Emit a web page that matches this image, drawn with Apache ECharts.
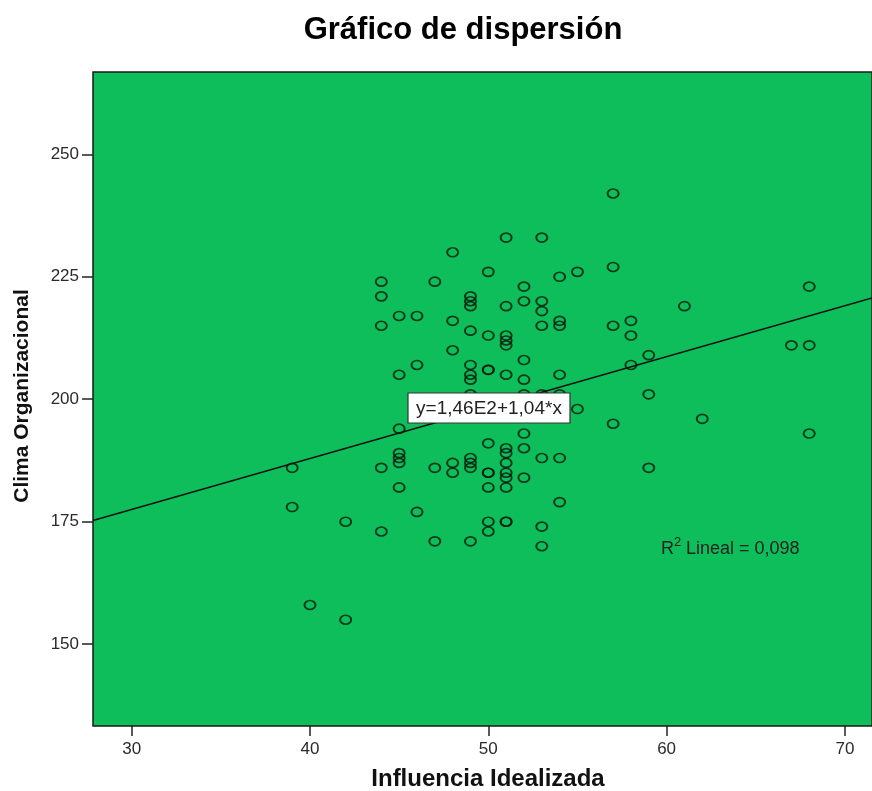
<!DOCTYPE html>
<html>
<head>
<meta charset="utf-8">
<script src="https://cdn.jsdelivr.net/npm/echarts@6/dist/echarts.min.js"></script>
<style>
  html, body { margin: 0; padding: 0; background: #ffffff; }
  #chart { width: 872px; height: 791px; }
</style>
</head>
<body>
<div id="chart"></div>
<script>
// Influencia Idealizada (x) and Clima Organizacional (y)
const influencia = [
  39, 39,
  40,
  42, 42,
  44, 44, 44, 44, 44,
  45, 45, 45, 45, 45, 45, 45,
  46, 46, 46,
  47, 47, 47,
  48, 48, 48, 48, 48,
  49, 49, 49, 49, 49, 49, 49, 49, 49, 49, 49, 49,
  50, 50, 50, 50, 50, 50, 50, 50, 50, 50,
  51, 51, 51, 51, 51, 51, 51, 51, 51, 51, 51, 51, 51, 51,
  52, 52, 52, 52, 52, 52, 52, 52,
  53, 53, 53, 53, 53, 53, 53, 53,
  54, 54, 54, 54, 54, 54, 54,
  55, 55,
  57, 57, 57, 57,
  58, 58, 58,
  59, 59, 59,
  61,
  62,
  67,
  68, 68, 68
];
const clima = [
  186, 178,
  158,
  175, 155,
  224, 221, 215, 186, 173,
  217, 205, 194, 189, 188, 187, 182,
  217, 207, 177,
  224, 186, 171,
  230, 216, 210, 187, 185,
  221, 220, 219, 214, 207, 205, 204, 201, 188, 187, 186, 171,
  226, 213, 206, 206, 191, 185, 185, 182, 175, 173,
  233, 219, 213, 212, 211, 205, 190, 189, 187, 185, 184, 182, 175, 175,
  223, 220, 208, 204, 201, 193, 190, 184,
  233, 220, 218, 215, 201, 188, 174, 170,
  225, 216, 215, 205, 201, 188, 179,
  226, 198,
  242, 227, 215, 195,
  216, 213, 207,
  209, 201, 186,
  219,
  196,
  211,
  223, 211, 193
];
const xTicks = [30, 40, 50, 60, 70];
const yTicks = [150, 175, 200, 225, 250];
const xRange = [27.83, 71.52];
const yRange = [133.3, 266.8];
const intercept = 146.3;   // 1,46E2
const slope = 1.04;
const titleText = 'Gráfico de dispersión';
const xName = 'Influencia Idealizada';
const yName = 'Clima Organizacional';
const eqText = 'y=1,46E2+1,04*x';
const r2Base = 'R';
const r2Sup = '2';
const r2Rest = ' Lineal = 0,098';

const points = influencia.map((x, i) => [x, clima[i]]);
const fitLine = xRange.map(x => [x, intercept + slope * x]);

const FONT = '"Liberation Sans", Arial, sans-serif';
const chart = echarts.init(document.getElementById('chart'), null, { renderer: 'canvas' });

chart.setOption({
  animation: false,
  backgroundColor: '#ffffff',
  grid: {
    left: 93, top: 72, right: -3, bottom: 65,
    show: true,
    backgroundColor: '#0dbe5a',
    borderColor: '#1a1a1a',
    borderWidth: 1.5
  },
  xAxis: {
    type: 'value',
    min: xRange[0], max: xRange[1],
    axisLine: { show: false },
    splitLine: { show: false },
    axisTick: { show: true, customValues: xTicks, length: 10, lineStyle: { color: '#222', width: 1.5 } },
    axisLabel: { customValues: xTicks, margin: 15, color: '#2a2a2a', fontSize: 17, fontFamily: FONT }
  },
  yAxis: {
    type: 'value',
    min: yRange[0], max: yRange[1],
    axisLine: { show: false },
    splitLine: { show: false },
    axisTick: { show: true, customValues: yTicks, length: 11, lineStyle: { color: '#222', width: 1.5 } },
    axisLabel: { customValues: yTicks, margin: 14, color: '#2a2a2a', fontSize: 17, fontFamily: FONT }
  },
  series: [
    {
      type: 'line',
      data: fitLine,
      symbol: 'none',
      lineStyle: { color: '#111', width: 1.5 },
      z: 2,
      silent: true
    },
    {
      type: 'scatter',
      data: points,
      symbol: 'path://M0,5a5,5 0 1,0 10,0a5,5 0 1,0 -10,0z',
      symbolSize: [11, 9],
      symbolKeepAspect: false,
      itemStyle: { color: 'rgba(0,0,0,0)', borderColor: '#0c160c', borderWidth: 1.8 },
      z: 3
    }
  ],
  graphic: [
    {
      type: 'text', x: 463, y: 30, z: 10,
      style: { text: titleText, font: 'bold 31px ' + FONT, fill: '#000', align: 'center', verticalAlign: 'middle' }
    },
    {
      type: 'text', x: 488, y: 779, z: 10,
      style: { text: xName, font: 'bold 24px ' + FONT, fill: '#111', align: 'center', verticalAlign: 'middle' }
    },
    {
      type: 'text', x: 22, y: 396, rotation: Math.PI / 2, z: 10,
      style: { text: yName, font: 'bold 21px ' + FONT, fill: '#111', align: 'center', verticalAlign: 'middle' }
    },
    {
      type: 'rect', z: 10,
      shape: { x: 408, y: 393, width: 162, height: 30 },
      style: { fill: '#ffffff', stroke: '#333', lineWidth: 1.2 }
    },
    {
      type: 'text', x: 489, y: 409, z: 11,
      style: { text: eqText, font: '19px ' + FONT, fill: '#222', align: 'center', verticalAlign: 'middle' }
    },
    {
      type: 'text', x: 661, y: 549, z: 10,
      style: { text: r2Base, font: '18px ' + FONT, fill: '#222', align: 'left', verticalAlign: 'middle' }
    },
    {
      type: 'text', x: 674, y: 542, z: 10,
      style: { text: r2Sup, font: '13px ' + FONT, fill: '#222', align: 'left', verticalAlign: 'middle' }
    },
    {
      type: 'text', x: 681, y: 549, z: 10,
      style: { text: r2Rest, font: '18px ' + FONT, fill: '#222', align: 'left', verticalAlign: 'middle' }
    }
  ]
});
</script>
</body>
</html>
